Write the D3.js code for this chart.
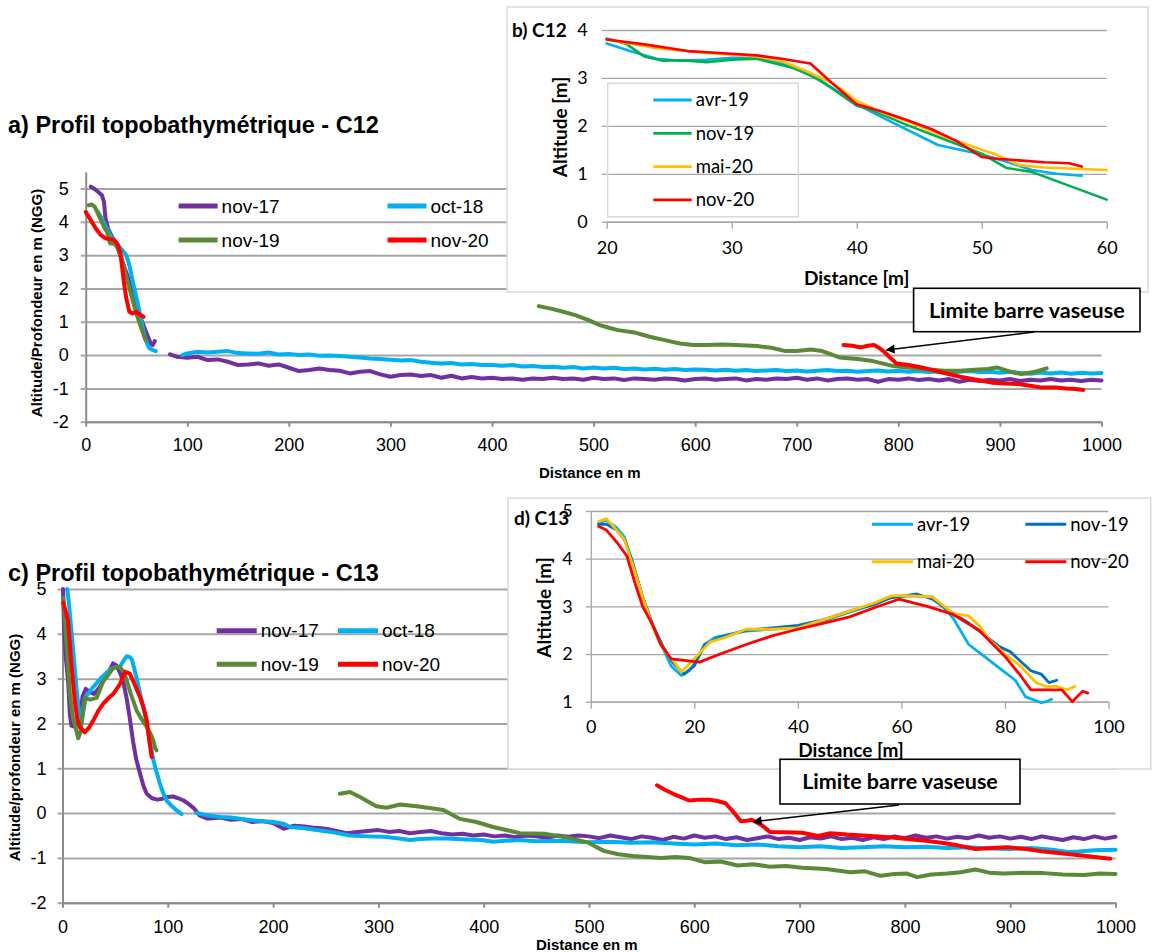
<!DOCTYPE html>
<html>
<head>
<meta charset="utf-8">
<script src="https://cdn.jsdelivr.net/npm/d3@7"></script>
<style>
body { margin: 0; background: #fff; }
svg { display: block; }
</style>
</head>
<body>
<div id="chart"></div>
<script>
// ---- DATA (distance en m, altitude en m NGG) -----------------------

// a) C12 - profil complet
var a_nov17_1 = [[5,5.06],[9,4.98],[13,4.88],[16,4.8],[18,4.6],[19.5,4.1],[22,3.8],[26,3.55],[30,3.35],[34,3.0],[38,2.65],[42,2.3],[46,1.9],[50,1.5],[55,1.05],[60,0.65],[64,0.35],[66,0.3],[68,0.42]];
var a_nov17_2 = [[83,0.02],[90,-0.05],[100,-0.08],[110,-0.05],[120,-0.15],[130,-0.13],[140,-0.2],[150,-0.3],[160,-0.28],[170,-0.25],[180,-0.32],[190,-0.28],[200,-0.38],[210,-0.48],[220,-0.45],[230,-0.4],[240,-0.45],[250,-0.47],[260,-0.55],[270,-0.5],[280,-0.48],[290,-0.58],[300,-0.65],[310,-0.6],[320,-0.58],[330,-0.63],[340,-0.6],[350,-0.68],[360,-0.62],[370,-0.7],[380,-0.66],[390,-0.7],[400,-0.68],[410,-0.72],[420,-0.7],[430,-0.74],[440,-0.7],[450,-0.72],[460,-0.68],[470,-0.72],[480,-0.7],[490,-0.74],[500,-0.68],[510,-0.72],[520,-0.7],[530,-0.75],[540,-0.7],[550,-0.72],[560,-0.74],[570,-0.7],[580,-0.72],[590,-0.76],[600,-0.72],[610,-0.7],[620,-0.74],[630,-0.72],[640,-0.7],[650,-0.76],[660,-0.72],[670,-0.74],[680,-0.7],[690,-0.72],[700,-0.68],[710,-0.74],[720,-0.7],[730,-0.76],[740,-0.72],[750,-0.7],[760,-0.74],[770,-0.72],[780,-0.8],[790,-0.72],[800,-0.74],[810,-0.7],[820,-0.75],[830,-0.72],[840,-0.76],[850,-0.72],[860,-0.8],[870,-0.74],[880,-0.78],[890,-0.74],[900,-0.76],[910,-0.72],[920,-0.78],[930,-0.74],[940,-0.76],[950,-0.72],[960,-0.76],[970,-0.74],[980,-0.78],[990,-0.74],[1000,-0.76]];
var a_oct18_1 = [[12,4.3],[16,4.1],[20,3.85],[24,3.6],[28,3.42],[32,3.3],[36,3.15],[40,3.0],[43,2.7],[46,2.25],[49,1.85],[52,1.45],[55,1.0],[58,0.55],[61,0.3],[63,0.2],[66,0.15],[69,0.12]];
var a_oct18_2 = [[95,0.0],[100,0.05],[110,0.1],[120,0.08],[130,0.1],[140,0.12],[150,0.06],[160,0.05],[170,0.04],[180,0.08],[190,0.02],[200,0.03],[210,0.0],[220,0.02],[230,-0.02],[240,-0.01],[250,-0.03],[260,-0.05],[270,-0.07],[280,-0.1],[290,-0.12],[300,-0.14],[310,-0.16],[320,-0.15],[330,-0.2],[340,-0.23],[350,-0.25],[360,-0.24],[370,-0.28],[380,-0.27],[390,-0.3],[400,-0.3],[410,-0.32],[420,-0.3],[430,-0.34],[440,-0.33],[450,-0.36],[460,-0.35],[470,-0.38],[480,-0.36],[490,-0.4],[500,-0.37],[510,-0.4],[520,-0.38],[530,-0.42],[540,-0.4],[550,-0.43],[560,-0.41],[570,-0.44],[580,-0.42],[590,-0.45],[600,-0.43],[610,-0.44],[620,-0.46],[630,-0.44],[640,-0.47],[650,-0.45],[660,-0.48],[670,-0.46],[680,-0.45],[690,-0.48],[700,-0.46],[710,-0.49],[720,-0.47],[730,-0.45],[740,-0.48],[750,-0.47],[760,-0.5],[770,-0.48],[780,-0.46],[790,-0.49],[800,-0.47],[810,-0.5],[820,-0.48],[830,-0.51],[840,-0.49],[850,-0.52],[860,-0.5],[870,-0.48],[880,-0.51],[890,-0.5],[900,-0.53],[910,-0.5],[920,-0.54],[930,-0.56],[940,-0.52],[950,-0.55],[960,-0.52],[970,-0.56],[980,-0.53],[990,-0.55],[1000,-0.54]];
var a_nov19_1 = [[3,4.5],[6,4.52],[9,4.45],[12,4.25],[15,4.05],[18,3.85],[21,3.7],[24,3.35],[28,3.35],[32,3.2],[36,2.8],[40,2.35],[44,1.9],[48,1.45],[52,1.05],[56,0.7],[59,0.45]];
var a_nov19_2 = [[446,1.47],[460,1.38],[470,1.3],[482,1.2],[495,1.05],[506,0.9],[515,0.82],[524,0.75],[540,0.68],[555,0.55],[570,0.45],[585,0.35],[598,0.3],[612,0.3],[626,0.32],[640,0.3],[661,0.27],[675,0.22],[689,0.12],[700,0.12],[714,0.17],[725,0.12],[742,-0.07],[760,-0.12],[775,-0.18],[795,-0.33],[812,-0.38],[830,-0.43],[845,-0.47],[861,-0.47],[875,-0.44],[888,-0.42],[897,-0.37],[910,-0.5],[921,-0.57],[935,-0.5],[946,-0.4]];
var a_nov20_1 = [[0,4.3],[5,4.05],[10,3.8],[15,3.6],[20,3.5],[25,3.48],[28,3.45],[31,3.35],[34,3.1],[36,2.6],[38,2.1],[40,1.7],[43,1.3],[46,1.25],[50,1.3],[54,1.2],[57,1.15]];
var a_nov20_2 = [[746,0.3],[755,0.28],[763,0.23],[770,0.28],[776,0.3],[781,0.22],[786,0.1],[791,-0.05],[798,-0.25],[810,-0.3],[823,-0.37],[840,-0.5],[861,-0.65],[878,-0.75],[893,-0.83],[905,-0.85],[918,-0.87],[930,-0.92],[940,-0.97],[955,-0.97],[965,-1.0],[975,-1.02],[982,-1.05]];

// b) C12 - zoom haut de plage
var b_avr19 = [[20,3.72],[22,3.55],[24,3.4],[26,3.36],[28,3.38],[30,3.42],[32,3.42],[34,3.3],[36,3.1],[38,2.8],[40,2.45],[43,2.05],[46.5,1.6],[50,1.4],[52,1.25],[54,1.08],[56,1.0],[58,0.96]];
var b_nov19 = [[20,3.82],[21.5,3.72],[23,3.45],[24.5,3.36],[26,3.37],[28,3.33],[30,3.38],[32,3.4],[35,3.2],[37,2.97],[40,2.42],[41,2.35],[44,2.02],[47,1.72],[50,1.42],[52,1.12],[54,1.04],[60,0.46]];
var b_mai20 = [[20,3.8],[24,3.62],[28,3.52],[32,3.45],[34,3.35],[36,3.14],[38,2.9],[39,2.72],[40,2.52],[42,2.28],[44,2.1],[47,1.78],[50,1.5],[51,1.42],[53,1.18],[55,1.13],[58,1.1],[60,1.08]];
var b_nov20 = [[20,3.8],[23,3.7],[26.5,3.56],[29,3.52],[32,3.47],[34,3.4],[36.3,3.3],[38,2.9],[40,2.45],[42,2.3],[44,2.12],[46,1.93],[48,1.68],[50,1.35],[51,1.32],[53,1.28],[55,1.24],[57,1.22],[58,1.15]];

// c) C13 - profil complet
var c_nov17 = [[0.5,5.0],[1.5,4.1],[3,3.5],[5.3,2.96],[7,2.2],[8.5,1.95],[11,1.93],[14,1.98],[17,2.1],[19,2.6],[22,2.77],[26,2.7],[30,2.66],[35,2.8],[40,3.0],[45,3.2],[48,3.34],[51,3.3],[55,3.11],[58,2.9],[61,2.55],[64,2.1],[67,1.6],[70,1.2],[74,0.85],[77,0.6],[80,0.43],[85,0.33],[90,0.3],[95,0.32],[100,0.36],[105,0.37],[110,0.33],[115,0.28],[120,0.2],[125,0.1],[130,-0.05],[137,-0.12],[140,-0.12],[150,-0.1],[160,-0.15],[170,-0.13],[180,-0.2],[190,-0.18],[200,-0.22],[210,-0.35],[220,-0.28],[230,-0.3],[240,-0.33],[250,-0.35],[260,-0.4],[270,-0.45],[280,-0.42],[290,-0.4],[300,-0.38],[310,-0.42],[320,-0.4],[330,-0.45],[340,-0.42],[350,-0.4],[360,-0.45],[370,-0.48],[380,-0.46],[390,-0.5],[400,-0.48],[410,-0.52],[420,-0.5],[430,-0.54],[440,-0.5],[450,-0.52],[460,-0.55],[470,-0.5],[480,-0.53],[490,-0.5],[500,-0.52],[510,-0.56],[520,-0.5],[530,-0.54],[540,-0.58],[550,-0.52],[560,-0.55],[570,-0.6],[580,-0.53],[590,-0.57],[600,-0.5],[610,-0.55],[620,-0.52],[630,-0.58],[640,-0.54],[650,-0.6],[660,-0.56],[670,-0.52],[680,-0.58],[690,-0.55],[700,-0.6],[710,-0.54],[720,-0.57],[730,-0.52],[740,-0.58],[750,-0.55],[760,-0.6],[770,-0.54],[780,-0.58],[790,-0.52],[800,-0.56],[810,-0.5],[820,-0.55],[830,-0.52],[840,-0.57],[850,-0.53],[860,-0.56],[870,-0.5],[880,-0.55],[890,-0.52],[900,-0.57],[910,-0.53],[920,-0.58],[930,-0.52],[940,-0.56],[950,-0.6],[960,-0.54],[970,-0.58],[980,-0.52],[990,-0.57],[1000,-0.53]];
var c_oct18_1 = [[4.5,5.0],[6,4.7],[8.7,4.0],[11,3.4],[13.2,2.8],[15.5,2.3],[18,2.0],[20,2.3],[22.3,2.6],[27,2.75],[32.4,2.9],[38,3.05],[45,3.2],[50,3.25],[54.6,3.27],[58,3.4],[61,3.5],[64,3.48],[66,3.42],[70,3.05],[73.6,2.67],[77,2.35],[80,2.0],[83,1.6],[86.3,1.18],[89.5,0.9],[92.6,0.65],[95.5,0.45],[98.9,0.28],[104,0.15],[108.4,0.06],[113,-0.02]];
var c_oct18_2 = [[127,0.0],[140,-0.06],[150,-0.09],[160,-0.1],[170,-0.13],[180,-0.16],[190,-0.18],[200,-0.2],[210,-0.24],[216,-0.31],[230,-0.34],[241,-0.38],[255,-0.42],[273,-0.5],[290,-0.52],[305,-0.53],[318,-0.56],[330,-0.6],[340,-0.58],[352,-0.57],[365,-0.57],[384,-0.59],[398,-0.6],[409,-0.64],[420,-0.62],[434,-0.6],[450,-0.63],[470,-0.62],[490,-0.64],[500,-0.65],[520,-0.64],[540,-0.66],[560,-0.65],[580,-0.68],[600,-0.7],[620,-0.68],[640,-0.72],[660,-0.7],[680,-0.74],[700,-0.76],[720,-0.74],[740,-0.78],[760,-0.76],[780,-0.74],[800,-0.76],[820,-0.75],[840,-0.78],[860,-0.76],[880,-0.79],[900,-0.8],[920,-0.78],[940,-0.82],[955,-0.87],[965,-0.86],[980,-0.83],[1000,-0.82]];
var c_nov19_1 = [[0.8,4.8],[3.9,3.75],[7.1,2.64],[10,2.1],[11.8,1.97],[14.9,1.67],[17.2,1.82],[19,2.2],[21.2,2.57],[26,2.53],[32.4,2.57],[38.7,2.94],[44,3.1],[48.3,3.24],[54.6,3.26],[58,3.15],[61,2.96],[65,2.65],[70.4,2.29],[75,2.1],[80,1.92],[83,1.8],[86.3,1.62],[88,1.45],[89.4,1.4]];
var c_nov19_2 = [[263.5,0.43],[273,0.47],[282.5,0.36],[298,0.15],[307.8,0.12],[320.5,0.19],[336.4,0.15],[352,0.1],[361.7,0.07],[377.5,-0.13],[393,-0.2],[409,-0.31],[434.5,-0.45],[457.5,-0.46],[480.4,-0.55],[499.5,-0.66],[507,-0.76],[514.8,-0.85],[528,-0.92],[541.7,-0.96],[555,-0.98],[568.4,-1.0],[582,-0.98],[595.2,-1.0],[610.5,-1.1],[625,-1.08],[641.2,-1.17],[656,-1.14],[671.8,-1.2],[687,-1.18],[702.4,-1.22],[725,-1.25],[748.3,-1.32],[762,-1.3],[777,-1.4],[790,-1.36],[802,-1.35],[811.5,-1.43],[825,-1.37],[840,-1.35],[853,-1.32],[867,-1.26],[880,-1.33],[893.8,-1.35],[912,-1.33],[932,-1.34],[950,-1.37],[970,-1.38],[985,-1.35],[1000,-1.36]];
var c_nov20_1 = [[0.8,4.7],[5.3,4.29],[8.4,3.33],[11.6,2.51],[14,2.1],[16.4,1.92],[21.2,1.8],[25,1.9],[29.3,2.07],[34,2.28],[38.7,2.44],[43,2.55],[48.3,2.66],[54.6,2.88],[59.4,3.15],[64,3.11],[68,2.9],[73.6,2.59],[77,2.35],[80,2.07],[82.5,1.6],[84.7,1.25]];
var c_nov20_2 = [[564.6,0.62],[572,0.52],[580,0.43],[588,0.35],[595.2,0.28],[605,0.3],[614.4,0.3],[622,0.27],[629.7,0.22],[637.3,0.02],[644.2,-0.18],[650,-0.17],[654.6,-0.15],[664,-0.27],[671.8,-0.42],[685,-0.43],[702.4,-0.44],[717.7,-0.51],[729.2,-0.45],[745,-0.48],[767.5,-0.51],[785,-0.54],[802,-0.58],[820,-0.62],[836.4,-0.67],[850,-0.72],[867,-0.8],[882,-0.78],[897.6,-0.76],[915,-0.8],[932,-0.86],[950,-0.9],[970,-0.95],[995,-1.02]];

// d) C13 - zoom haut de plage
var d_avr19 = [[1.5,4.75],[3,4.8],[5,4.65],[6.5,4.45],[8,3.95],[10,3.2],[12,2.6],[14,2.1],[15.5,1.75],[17.5,1.55],[19,1.65],[20,1.8],[22,2.2],[24,2.35],[27,2.42],[30,2.48],[35,2.52],[40,2.58],[45,2.7],[50,2.88],[55,3.05],[58,3.2],[62,3.22],[66,3.2],[68,3.0],[70,2.75],[73,2.2],[76,1.95],[79,1.7],[82,1.45],[84,1.1],[87,0.98],[88,1.0],[89,1.05]];
var d_nov19 = [[1.5,4.72],[3,4.72],[5,4.6],[6.5,4.4],[8,3.95],[10,3.2],[12,2.6],[14,2.15],[16,1.8],[18,1.58],[20,1.75],[22,2.2],[25,2.35],[30,2.5],[35,2.55],[40,2.6],[45,2.72],[50,2.9],[55,3.05],[58,3.18],[63,3.26],[66,3.15],[70,2.85],[73,2.65],[76,2.4],[79,2.15],[81,2.05],[83,1.85],[85,1.65],[87,1.58],[88.5,1.4],[90,1.45]];
var d_mai20 = [[1.5,4.78],[3,4.84],[5,4.6],[6.5,4.4],[8,3.9],[10,3.2],[12,2.55],[14,2.1],[16,1.85],[17.5,1.62],[20,1.9],[23,2.25],[26,2.35],[30,2.52],[35,2.52],[40,2.55],[45,2.72],[50,2.9],[55,3.08],[58,3.22],[60,3.23],[66,3.2],[70,2.85],[73,2.8],[75,2.6],[77,2.3],[80,2.0],[83,1.75],[86,1.4],[88,1.32],[90,1.32],[92,1.25],[93.5,1.32]];
var d_nov20 = [[1.5,4.68],[3,4.6],[5,4.35],[7,4.05],[8.5,3.5],[10,3.0],[12,2.6],[13.5,2.2],[15.5,1.9],[21,1.83],[25,2.0],[30,2.2],[35,2.38],[40,2.52],[45,2.65],[50,2.78],[55,2.98],[59.5,3.15],[65,3.0],[70,2.83],[75,2.5],[80,1.95],[83,1.55],[85,1.25],[91,1.25],[93,1.0],[95,1.22],[96,1.18]];

// ---- ticks / labels ----
var mainXTicks = [0,100,200,300,400,500,600,700,800,900,1000];
var aYTicks = [-2,-1,0,1,2,3,4,5];
var cYTicks = [-2,-1,0,1,2,3,4,5];
var bXTicks = [20,30,40,50,60];
var bYTicks = [0,1,2,3,4];
var dXTicks = [0,20,40,60,80,100];
var dYTicks = [1,2,3,4,5];

var mainNames = ["nov-17","oct-18","nov-19","nov-20"];
var mainColors = ["#7030a0","#00b0f0","#5a8a36","#ff0000"];
var insetNames = ["avr-19","nov-19","mai-20","nov-20"];
var bColors = ["#00b0f0","#00b050","#ffc000","#ff0000"];
var dColors = ["#00b0f0","#0070c0","#ffc000","#ff0000"];

var ARIAL = "'Liberation Sans', Arial, sans-serif";
var CALIBRI = "Lato, 'Open Sans', sans-serif";

// ---- SCALES ----------------------------------
var xA = d3.scaleLinear().domain([0,1000]).range([85.7,1101.5]);
var yA = d3.scaleLinear().domain([-2,5.5]).range([421.7,171.9]);
var xC = d3.scaleLinear().domain([0,1000]).range([62.5,1115.5]);
var yC = d3.scaleLinear().domain([-2,5]).range([902.7,589]);
var xB = d3.scaleLinear().domain([20,60]).range([606.7,1106.7]);
var yB = d3.scaleLinear().domain([0,4]).range([221.7,30]);
var xD = d3.scaleLinear().domain([0,100]).range([590.8,1108.5]);
var yD = d3.scaleLinear().domain([1,5]).range([701.7,511]);

var svg = d3.select("#chart")
    .append("svg")
    .attr("width", 1152)
    .attr("height", 952);

svg.append("rect").attr("width",1152).attr("height",952).attr("fill","#fff");

svg.append("defs").append("marker")
    .attr("id","arrow")
    .attr("viewBox","0 0 10 10")
    .attr("refX",9).attr("refY",5)
    .attr("markerUnits","userSpaceOnUse")
    .attr("markerWidth",11).attr("markerHeight",9)
    .attr("orient","auto")
    .append("path").attr("d","M0,0L10,5L0,10z").attr("fill","#000");

function fmt(d) { return String(d); }

// gridlines + axes of one chart
function drawAxes(g, x, y, xTicks, yTicks, o) {
    var x0 = x.range()[0], x1 = x.range()[1];
    var grid = g.append("g")
        .attr("transform", "translate(" + x0 + ",0)")
        .call(d3.axisLeft(y).tickValues(yTicks).tickSize(-(x1 - x0)).tickFormat(""));
    grid.select(".domain").remove();
    grid.selectAll("line").attr("stroke", o.grid).attr("stroke-width", o.gridW);

    var ya = g.append("g")
        .attr("transform", "translate(" + x0 + ",0)")
        .call(d3.axisLeft(y).tickValues(yTicks).tickSizeInner(5).tickSizeOuter(0).tickPadding(o.yPad).tickFormat(fmt));
    ya.attr("font-family", o.font).attr("font-size", o.size);
    ya.selectAll("line").attr("stroke", o.grid).attr("stroke-width", o.gridW);
    ya.selectAll("text").attr("fill", "#000");
    if (o.yLine) ya.select(".domain").attr("stroke", o.axis).attr("stroke-width", o.axisW);
    else ya.select(".domain").remove();

    var xa = g.append("g")
        .attr("transform", "translate(0," + y.range()[0] + ")")
        .call(d3.axisBottom(x).tickValues(xTicks).tickSizeInner(o.xTick).tickSizeOuter(0).tickPadding(o.xPad).tickFormat(fmt));
    xa.attr("font-family", o.font).attr("font-size", o.size);
    xa.selectAll("line").attr("stroke", o.axis).attr("stroke-width", o.axisW);
    xa.selectAll("text").attr("fill", "#000");
    xa.select(".domain").attr("stroke", o.axis).attr("stroke-width", o.axisW);
}

function drawSeries(g, x, y, segments, color, w) {
    var line = d3.line()
        .x(function (d) { return x(d[0]); })
        .y(function (d) { return y(d[1]); });
    g.append("g").selectAll("path")
        .data(segments)
        .enter().append("path")
        .attr("d", line)
        .attr("fill", "none")
        .attr("stroke", color)
        .attr("stroke-width", w)
        .attr("stroke-linejoin", "round")
        .attr("stroke-linecap", "round");
}

function legendItem(g, x, y, len, name, color, w, font, size) {
    g.append("line")
        .attr("x1", x).attr("x2", x + len)
        .attr("y1", y).attr("y2", y)
        .attr("stroke", color).attr("stroke-width", w);
    g.append("text")
        .attr("x", x + len + 4).attr("y", y)
        .attr("dy", "0.35em")
        .attr("font-family", font).attr("font-size", size)
        .text(name);
}

function note(g, bx, by, bw, bh, ax1, ay1, ax2, ay2) {
    g.append("line")
        .attr("x1", ax1).attr("y1", ay1).attr("x2", ax2).attr("y2", ay2)
        .attr("stroke", "#000").attr("stroke-width", 1.6)
        .attr("marker-end", "url(#arrow)");
    g.append("rect")
        .attr("x", bx).attr("y", by).attr("width", bw).attr("height", bh)
        .attr("fill", "#fff").attr("stroke", "#000").attr("stroke-width", 1.6);
    g.append("text")
        .attr("x", bx + bw / 2).attr("y", by + bh / 2)
        .attr("dy", "0.35em").attr("text-anchor", "middle")
        .attr("font-family", CALIBRI).attr("font-size", 21.5).attr("font-weight", "bold")
        .text("Limite barre vaseuse");
}

var mainOpts = { grid: "#a6a6a6", gridW: 2, axis: "#8c8c8c", axisW: 2, font: ARIAL, size: 18, yPad: 12, xPad: 12, xTick: 5, yLine: true };
var insetOpts = { grid: "#a6a6a6", gridW: 1.3, axis: "#a6a6a6", axisW: 1.3, font: CALIBRI, size: 18, yPad: 14, xPad: 13, xTick: 7, yLine: false };

// ------------------ a) C12 --------------
var gA = svg.append("g");
drawAxes(gA, xA, yA, mainXTicks, aYTicks, mainOpts);
var aSeries = [[a_nov17_1, a_nov17_2], [a_oct18_1, a_oct18_2], [a_nov19_1, a_nov19_2], [a_nov20_1, a_nov20_2]];
aSeries.forEach(function (s, i) { drawSeries(gA, xA, yA, s, mainColors[i], 4); });

gA.append("text").attr("x", 8).attr("y", 133)
    .attr("font-family", ARIAL).attr("font-size", 23.5).attr("font-weight", "bold")
    .text("a) Profil topobathymétrique - C12");
gA.append("text")
    .attr("transform", "translate(37,303) rotate(-90)")
    .attr("text-anchor", "middle").attr("dy", "0.35em")
    .attr("font-family", ARIAL).attr("font-size", 15).attr("font-weight", "bold")
    .text("Altitude/Profondeur en m (NGG)");
gA.append("text").attr("x", 539).attr("y", 478)
    .attr("font-family", ARIAL).attr("font-size", 15).attr("font-weight", "bold")
    .text("Distance en m");
legendItem(gA, 178.6, 206, 39, mainNames[0], mainColors[0], 5, ARIAL, 19);
legendItem(gA, 387.5, 206, 39, mainNames[1], mainColors[1], 5, ARIAL, 19);
legendItem(gA, 178.6, 240, 39, mainNames[2], mainColors[2], 5, ARIAL, 19);
legendItem(gA, 387.5, 240, 39, mainNames[3], mainColors[3], 5, ARIAL, 19);

// ------------------ b) C12 inset --------------
var gB = svg.append("g");
gB.append("rect").attr("x", 507).attr("y", 7).attr("width", 641).attr("height", 285)
    .attr("fill", "#fff").attr("stroke", "#d9d9d9").attr("stroke-width", 1.5);
drawAxes(gB, xB, yB, bXTicks, bYTicks, insetOpts);
[b_avr19, b_nov19, b_mai20, b_nov20].forEach(function (s, i) { drawSeries(gB, xB, yB, [s], bColors[i], 2.6); });
gB.append("rect").attr("x", 607.7).attr("y", 83.3).attr("width", 190.6).attr("height", 133.4)
    .attr("fill", "none").attr("stroke", "#d9d9d9").attr("stroke-width", 1.5);
insetNames.forEach(function (n, i) {
    legendItem(gB, 653.3, 100 + i * 33.3, 38.4, n, bColors[i], 2.8, CALIBRI, 18.5);
});
gB.append("text").attr("x", 512).attr("y", 37)
    .attr("font-family", CALIBRI).attr("font-size", 19).attr("font-weight", "bold")
    .text("b) C12");
gB.append("text")
    .attr("transform", "translate(560,127) rotate(-90)")
    .attr("text-anchor", "middle").attr("dy", "0.35em")
    .attr("font-family", CALIBRI).attr("font-size", 19).attr("font-weight", "bold")
    .text("Altitude [m]");
gB.append("text").attr("x", 856.7).attr("y", 278).attr("dy", "0.35em")
    .attr("text-anchor", "middle")
    .attr("font-family", CALIBRI).attr("font-size", 19).attr("font-weight", "bold")
    .text("Distance [m]");

note(svg, 913.6, 288.3, 226.4, 43.4, 1034, 332, 886.5, 350);

// ------------------ c) C13 --------------
var gC = svg.append("g");
drawAxes(gC, xC, yC, mainXTicks, cYTicks, { grid: "#a6a6a6", gridW: 2, axis: "#8c8c8c", axisW: 2, font: ARIAL, size: 18, yPad: 11, xPad: 13, xTick: 5, yLine: true });
var cSeries = [[c_nov17], [c_oct18_1, c_oct18_2], [c_nov19_1, c_nov19_2], [c_nov20_1, c_nov20_2]];
cSeries.forEach(function (s, i) { drawSeries(gC, xC, yC, s, mainColors[i], 4); });

gC.append("text").attr("x", 8).attr("y", 581)
    .attr("font-family", ARIAL).attr("font-size", 23.5).attr("font-weight", "bold")
    .text("c) Profil topobathymétrique - C13");
gC.append("text")
    .attr("transform", "translate(14.5,747.5) rotate(-90)")
    .attr("text-anchor", "middle").attr("dy", "0.35em")
    .attr("font-family", ARIAL).attr("font-size", 15).attr("font-weight", "bold")
    .text("Altitude/profondeur en m (NGG)");
gC.append("text").attr("x", 536).attr("y", 950)
    .attr("font-family", ARIAL).attr("font-size", 15).attr("font-weight", "bold")
    .text("Distance en m");
legendItem(gC, 216.7, 630.7, 40, mainNames[0], mainColors[0], 5, ARIAL, 19);
legendItem(gC, 338, 630.7, 40, mainNames[1], mainColors[1], 5, ARIAL, 19);
legendItem(gC, 216.7, 664.3, 40, mainNames[2], mainColors[2], 5, ARIAL, 19);
legendItem(gC, 338, 664.3, 40, mainNames[3], mainColors[3], 5, ARIAL, 19);

// ------------------ d) C13 inset --------------
var gD = svg.append("g");
gD.append("rect").attr("x", 508).attr("y", 498).attr("width", 642.7).attr("height", 271)
    .attr("fill", "#fff").attr("stroke", "#d9d9d9").attr("stroke-width", 1.5);
drawAxes(gD, xD, yD, dXTicks, dYTicks, { grid: "#a6a6a6", gridW: 1.3, axis: "#a6a6a6", axisW: 1.3, font: CALIBRI, size: 18, yPad: 13, xPad: 12, xTick: 7, yLine: true });
[d_avr19, d_nov19, d_mai20, d_nov20].forEach(function (s, i) { drawSeries(gD, xD, yD, [s], dColors[i], 2.8); });
legendItem(gD, 872, 524.3, 41, insetNames[0], dColors[0], 3, CALIBRI, 18.5);
legendItem(gD, 1025.3, 524.3, 41, insetNames[1], dColors[1], 3, CALIBRI, 18.5);
legendItem(gD, 872, 561.7, 41, insetNames[2], dColors[2], 3, CALIBRI, 18.5);
legendItem(gD, 1025.3, 561.7, 41, insetNames[3], dColors[3], 3, CALIBRI, 18.5);
gD.append("text").attr("x", 514).attr("y", 525)
    .attr("font-family", CALIBRI).attr("font-size", 19).attr("font-weight", "bold")
    .text("d) C13");
gD.append("text")
    .attr("transform", "translate(544,607.5) rotate(-90)")
    .attr("text-anchor", "middle").attr("dy", "0.35em")
    .attr("font-family", CALIBRI).attr("font-size", 19).attr("font-weight", "bold")
    .text("Altitude [m]");
gD.append("text").attr("x", 851).attr("y", 750).attr("dy", "0.35em")
    .attr("text-anchor", "middle")
    .attr("font-family", CALIBRI).attr("font-size", 19).attr("font-weight", "bold")
    .text("Distance [m]");

note(svg, 780, 759.3, 240, 44.7, 899, 805, 753.5, 821.7);
</script>
</body>
</html>
